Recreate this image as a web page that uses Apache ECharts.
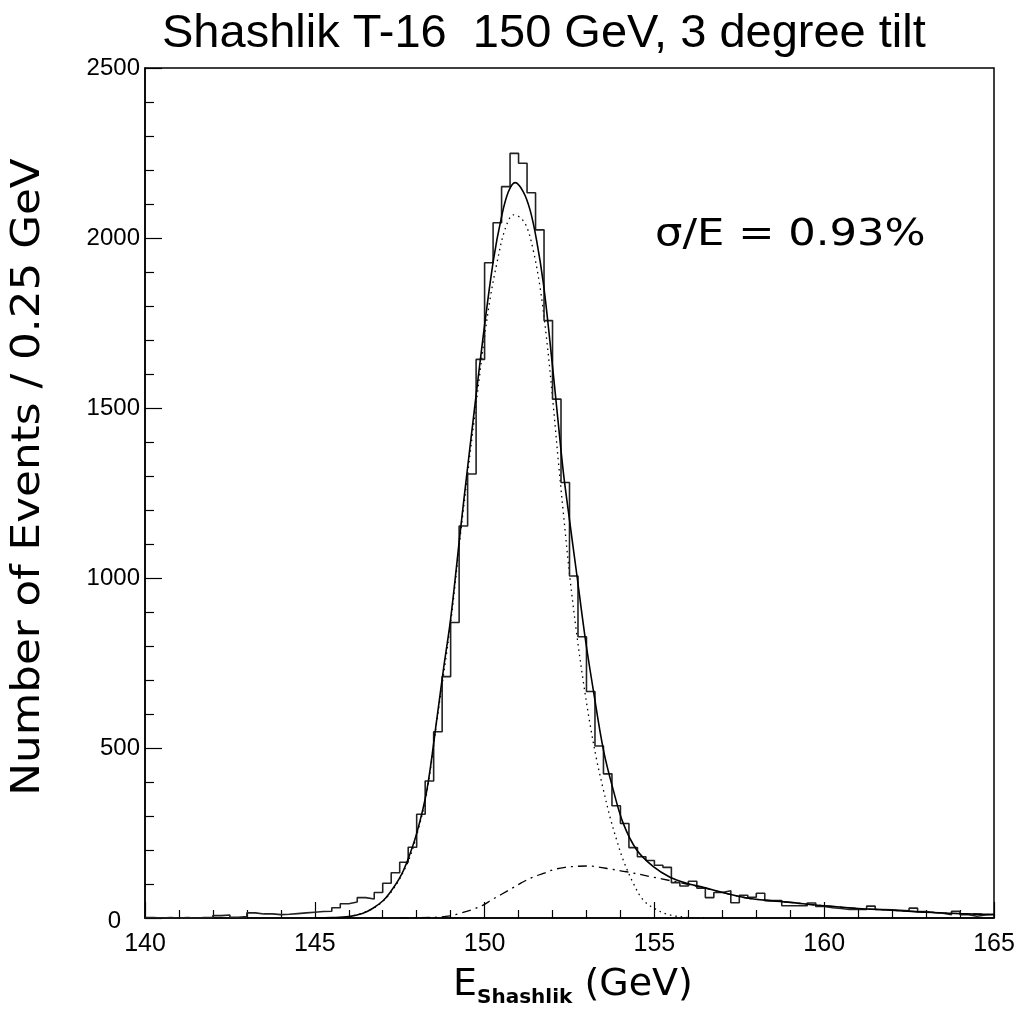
<!DOCTYPE html>
<html>
<head>
<meta charset="utf-8">
<script src="https://cdn.jsdelivr.net/npm/echarts@6/dist/echarts.min.js"></script>
<style>
  html, body { margin: 0; padding: 0; background: #fff; }
  #chart { width: 1021px; height: 1032px; }
</style>
</head>
<body>
<div id="chart"></div>
<script>
// histogram: events per 0.25 GeV bin, first bin starts at 140 GeV
var binStart = 140;
var binWidth = 0.25;
var counts = [
    1, 0, 1, 0, 1, 0, 1, 1, 7, 9,
    2, 4, 15, 12, 12, 10, 11, 13, 15, 17,
    19, 20, 30, 42, 47, 60, 56, 75, 102, 133,
    164, 208, 305, 403, 548, 710, 869, 1153, 1306, 1643,
    1927, 2045, 2151, 2249, 2220, 2133, 2024, 1757, 1526, 1281,
    1006, 827, 666, 506, 424, 330, 278, 207, 180, 169,
    155, 149, 104, 94, 108, 88, 60, 75, 80, 45,
    67, 61, 73, 51, 51, 36, 36, 36, 44, 34,
    30, 28, 25, 25, 25, 35, 25, 24, 23, 21,
    29, 19, 16, 14, 10, 20, 10, 5, 9, 11
];

// fit curves: [E, events]
var fitTotal = [
    [145.0, 0], [145.5, 1], [146.0, 4], [146.4, 13], [146.7, 28], [147.0, 50],
    [147.2, 73], [147.5, 118], [147.7, 161], [148.0, 249], [148.3, 376], [148.6, 590],
    [148.8, 740], [149.0, 880], [149.3, 1151], [149.47, 1300], [149.67, 1470], [149.96, 1712],
    [150.26, 1935], [150.5, 2063], [150.7, 2136], [150.9, 2163], [151.14, 2136], [151.34, 2082],
    [151.53, 1994], [151.73, 1867], [151.93, 1690], [152.17, 1455], [152.32, 1310], [152.5, 1171],
    [152.71, 1014], [152.96, 825], [153.2, 671], [153.5, 494], [153.79, 376], [154.08, 279],
    [154.48, 200], [154.97, 151], [155.46, 120], [155.95, 102], [156.44, 90], [156.93, 77],
    [157.77, 58], [159, 46], [160, 36], [161, 28], [162, 23], [163, 17], [164, 13], [165, 10]
];
var fitCore = [
    [146.0, 3], [146.7, 27], [147.2, 70], [147.7, 155], [148.0, 243], [148.3, 370],
    [148.6, 583], [149.0, 868], [149.3, 1137], [149.5, 1305], [149.7, 1470], [149.96, 1680],
    [150.16, 1820], [150.36, 1925], [150.6, 2025], [150.85, 2068], [151.05, 2060], [151.24, 2033],
    [151.43, 1965], [151.63, 1857], [151.83, 1700], [152.02, 1510], [152.17, 1345], [152.32, 1190],
    [152.52, 994], [152.71, 837], [152.9, 700], [153.1, 573], [153.3, 465], [153.5, 376],
    [153.69, 298], [153.89, 229], [154.08, 171], [154.38, 102], [154.67, 53], [155.07, 24],
    [155.46, 9], [155.95, 2], [156.5, 0]
];
var fitTail = [
    [147.5, 0], [148.5, 2], [148.98, 6], [149.28, 14], [149.62, 24], [149.96, 38],
    [150.2, 53], [150.5, 70], [150.8, 87], [151.09, 104], [151.39, 119], [151.73, 131],
    [152.02, 142], [152.37, 149], [152.71, 152], [153.05, 153], [153.35, 150], [153.7, 144],
    [154.18, 136], [154.97, 120], [155.46, 110], [155.95, 100], [156.44, 89], [156.93, 77],
    [157.77, 58], [159, 46], [160, 36], [161, 28], [162, 23], [163, 17], [164, 13], [165, 10]
];

var titleText = 'Shashlik T-16  150 GeV, 3 degree tilt';
var yTitle = 'Number of Events / 0.25 GeV';
var resolutionText = 'σ/E = 0.93%';

// step points: left edge of each bin, plus the closing right edge
var histPoints = [];
for (var i = 0; i < counts.length; i++) {
    histPoints.push([binStart + i * binWidth, counts[i]]);
}
histPoints.push([binStart + counts.length * binWidth, counts[counts.length - 1]]);

function curve(name, data, width, dash, z) {
    return {
        name: name, type: 'line', smooth: 0.35, data: data, symbol: 'none', z: z,
        lineStyle: { color: '#000', width: width, type: dash }
    };
}

var myChart = echarts.init(document.getElementById('chart'));
var option = {
    backgroundColor: '#fff',
    animation: false,
    title: {
        text: titleText,
        left: 157,
        top: 6,
        textStyle: { fontFamily: 'Liberation Sans', fontSize: 47, fontWeight: 'normal', color: '#000' }
    },
    grid: {
        left: 145, right: 27, top: 68, bottom: 114,
        show: true, borderColor: '#000', borderWidth: 1.5, backgroundColor: 'transparent'
    },
    xAxis: {
        type: 'value',
        min: 140, max: 165, interval: 5,
        axisLine: { lineStyle: { color: '#000', width: 1.5 } },
        axisTick: { inside: true, length: 16, lineStyle: { color: '#000', width: 1.2 } },
        minorTick: { show: true, splitNumber: 5, length: 8, lineStyle: { color: '#000', width: 1.2 } },
        axisLabel: { margin: 14, color: '#000', fontSize: 25, fontFamily: 'Liberation Sans' },
        splitLine: { show: false }
    },
    yAxis: {
        type: 'value',
        min: 0, max: 2500, interval: 500,
        axisLine: { show: true, lineStyle: { color: '#000', width: 1.5 } },
        axisTick: { show: true, inside: true, length: 17, lineStyle: { color: '#000', width: 1.2 } },
        minorTick: { show: true, splitNumber: 5, length: 9, lineStyle: { color: '#000', width: 1.2 } },
        axisLabel: {
            margin: 5, color: '#000', fontSize: 24, fontFamily: 'Liberation Sans',
            formatter: function (v) { return v === 0 ? '{z|0}' : String(v); },
            rich: { z: { fontSize: 24, fontFamily: 'Liberation Sans', color: '#000', padding: [6, 19, 0, 0] } }
        },
        splitLine: { show: false }
    },
    graphic: [
        {
            type: 'text', x: 29, y: 477, rotation: Math.PI / 2, scaleX: 1.12,
            style: {
                text: yTitle, fontFamily: 'DejaVu Sans', fontSize: 39, fill: '#000',
                align: 'center', verticalAlign: 'middle'
            }
        },
        {
            type: 'text', x: 655, y: 235, scaleX: 1.17,
            style: {
                text: resolutionText, fontFamily: 'DejaVu Sans', fontSize: 37, fill: '#000',
                align: 'left', verticalAlign: 'middle'
            }
        },
        {
            type: 'text', left: 453, top: 966,
            style: {
                text: '{e|E}{s|Shashlik}{e| (GeV)}',
                rich: {
                    e: { fontFamily: 'DejaVu Sans', fontSize: 38, fill: '#000', verticalAlign: 'bottom' },
                    s: { fontFamily: 'DejaVu Sans', fontSize: 20, fontWeight: 'bold', fill: '#000',
                         verticalAlign: 'bottom', padding: [0, 0, -4, 0] }
                }
            }
        }
    ],
    series: [
        {
            name: 'data', type: 'line', step: 'end', data: histPoints,
            symbol: 'none', lineStyle: { color: '#222', width: 1.6 }, z: 3
        },
        curve('fit', fitTotal, 1.6, 'solid', 4),
        curve('core', fitCore, 1.3, [1.5, 4], 2),
        curve('tail', fitTail, 1.3, [9, 5, 2, 5], 2)
    ]
};
myChart.setOption(option);
</script>
</body>
</html>
